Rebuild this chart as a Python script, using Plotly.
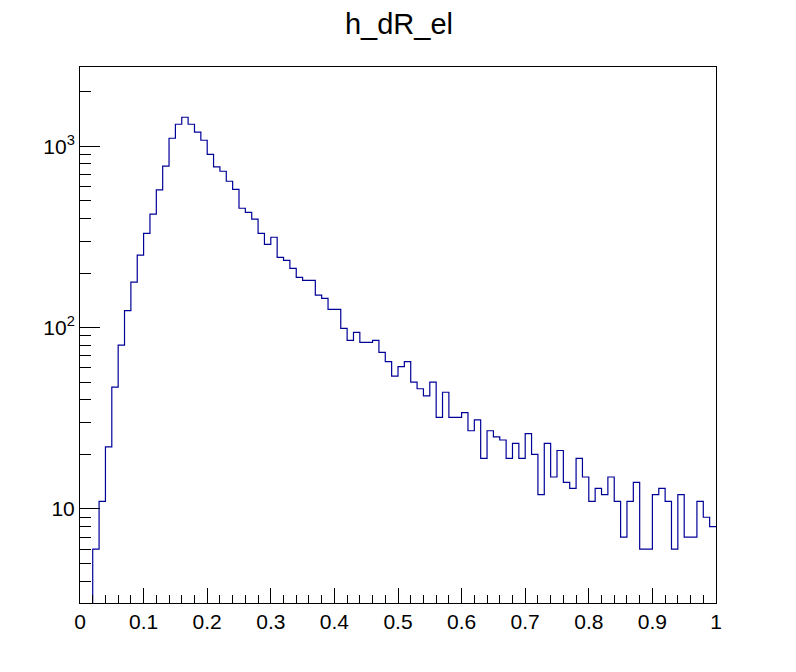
import numpy as np
import plotly.graph_objects as go

# Histogram h_dR_el: 100 bins from 0 to 1
bin_low = 0.0
bin_high = 1.0
n_bins = 100
counts = [
    0, 0, 6, 11, 22, 47, 80, 124, 178, 251,
    331, 422, 574, 776, 1107, 1322, 1445, 1322, 1195, 1079,
    903, 769, 728, 641, 579, 455, 432, 396, 331, 288,
    315, 244, 235, 212, 189, 182, 182, 151, 145, 126,
    126, 99, 85, 94, 83, 83, 85, 73, 65, 54,
    61, 65, 50, 46, 42, 50, 32, 44, 32, 32,
    34, 27, 31, 19, 27, 25, 24, 19, 23, 19,
    26, 20, 12, 23, 15, 21, 14, 13, 19, 15,
    11, 13, 12, 15, 11, 7, 11, 14, 6, 6,
    12, 13, 11, 6, 12, 7, 7, 11, 9, 8,
]
x_tick_vals = [0, 0.1, 0.2, 0.3, 0.4, 0.5, 0.6, 0.7, 0.8, 0.9, 1]
x_tick_text = ["0", "0.1", "0.2", "0.3", "0.4", "0.5", "0.6", "0.7", "0.8", "0.9", "1"]
y_tick_vals = [10, 100, 1000]
y_tick_text = ["10", "10<sup>2</sup>", "10<sup>3</sup>"]
y_minor_vals = [4, 5, 6, 7, 8, 9, 20, 30, 40, 50, 60, 70, 80, 90,
                200, 300, 400, 500, 600, 700, 800, 900, 2000]
x_minor_vals = [round(i * 0.02, 2) for i in range(51)]
y_min, y_max = 3.03, 2735.0

edges = np.linspace(bin_low, bin_high, n_bins + 1)
floor = 1e-2
draw_vals = [c if c > 0 else floor for c in counts]
xs = list(edges)
ys = draw_vals + [draw_vals[-1]]

fig = go.Figure()
fig.add_trace(go.Scatter(
    x=xs, y=ys, mode="lines", line_shape="hv",
    line=dict(color="#000099", width=1.2),
    hoverinfo="skip", showlegend=False, cliponaxis=True,
))

W, H = 788, 664  # page body adds an 8px margin
font_family = "Liberation Sans, Arial, Helvetica, sans-serif"
fig.update_layout(
    width=W, height=H,
    paper_bgcolor="white", plot_bgcolor="white",
    margin=dict(l=72, r=80, t=59, b=69),
    title=dict(text="h_dR_el", x=391 / W, xanchor="center", xref="container",
               y=1 - 16 / H, yanchor="middle", yref="container",
               font=dict(family=font_family, size=29, color="black")),
    font=dict(family=font_family, color="black"),
    showlegend=False,
)
fig.update_xaxes(
    range=[bin_low, bin_high], showgrid=False, zeroline=False,
    showline=True, linecolor="black", linewidth=1, mirror=True,
    tickmode="array", tickvals=x_tick_vals, ticktext=x_tick_text,
    ticks="inside", ticklen=15, tickwidth=1, tickcolor="black",
    tickfont=dict(family=font_family, size=21, color="black"),
    minor=dict(tickmode="array", tickvals=x_minor_vals, ticks="inside",
               ticklen=8, tickwidth=1, tickcolor="black", showgrid=False),
)
fig.update_yaxes(
    type="log", range=[np.log10(y_min), np.log10(y_max)],
    showgrid=False, zeroline=False,
    showline=True, linecolor="black", linewidth=1, mirror=True,
    tickmode="array", tickvals=y_tick_vals, ticktext=y_tick_text,
    ticks="inside", ticklen=20, tickwidth=1, tickcolor="black",
    tickfont=dict(family=font_family, size=21, color="black"),
    minor=dict(tickmode="array", tickvals=y_minor_vals, ticks="inside",
               ticklen=11, tickwidth=1, tickcolor="black", showgrid=False),
)

fig.write_html("out.html")
